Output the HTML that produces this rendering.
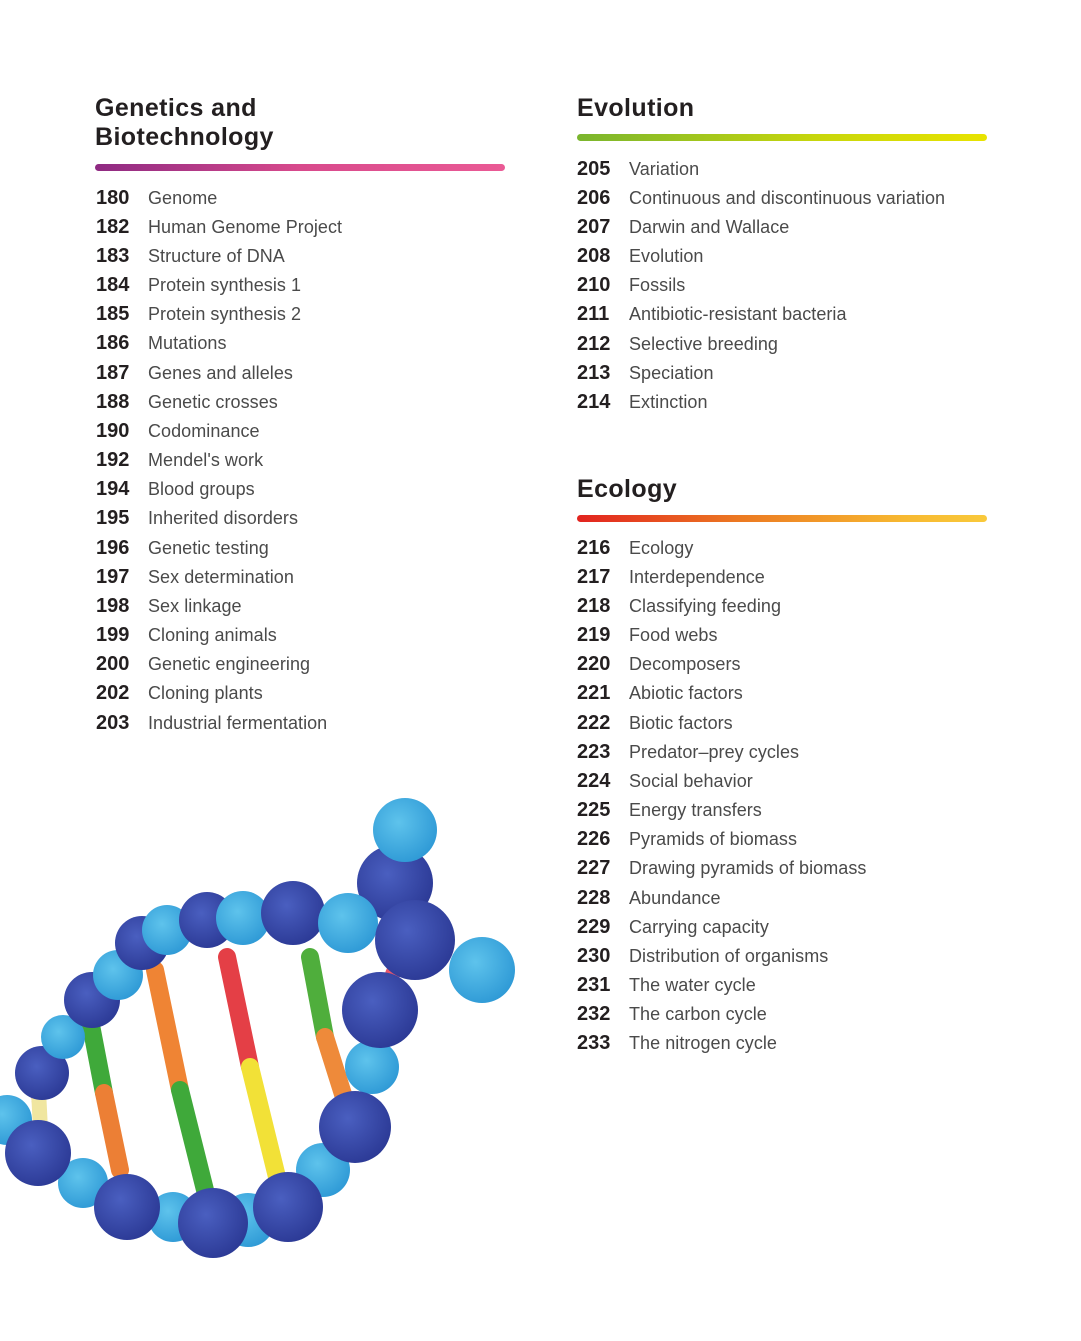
<!DOCTYPE html>
<html><head><meta charset="utf-8"><style>
body{margin:0;background:#fff;width:1081px;height:1341px;position:relative;overflow:hidden;font-family:"Liberation Sans",sans-serif;color:#231f20}
.h{position:absolute;font-weight:bold;font-size:25px;line-height:29px;letter-spacing:0.4px}
.bar{position:absolute;height:7px;border-radius:4px}
.row{position:absolute;height:29px;line-height:29px;white-space:nowrap}
.row b{position:absolute;left:0;font-size:20px}
.row span{position:absolute;left:52px;font-size:18px;color:#4a4a4a;letter-spacing:0.05px}
</style></head><body>
<div class="h" style="left:95px;top:94px">Genetics and<br>Biotechnology</div>
<div class="bar" style="left:95px;top:164px;width:410px;background:linear-gradient(90deg,#8e2a82,#d84a8c 50%,#ea5a95)"></div>
<div class="h" style="left:577px;top:94px">Evolution</div>
<div class="bar" style="left:577px;top:134px;width:410px;background:linear-gradient(90deg,#7ab52e,#c9d70b 60%,#e8e300)"></div>
<div class="h" style="left:577px;top:475px">Ecology</div>
<div class="bar" style="left:577px;top:515px;width:410px;background:linear-gradient(90deg,#e2231f,#ec7a22 40%,#f7b931 80%,#f9c93b)"></div>

<script>
function list(x,y0,items){let h='';items.forEach((it,i)=>{h+=`<div class="row" style="left:${x}px;top:${y0+i*29.17-14.5}px"><b>${it[0]}</b><span>${it[1]}</span></div>`});document.body.insertAdjacentHTML('beforeend',h);}
list(96,198,[["180","Genome"],["182","Human Genome Project"],["183","Structure of DNA"],["184","Protein synthesis 1"],["185","Protein synthesis 2"],["186","Mutations"],["187","Genes and alleles"],["188","Genetic crosses"],["190","Codominance"],["192","Mendel's work"],["194","Blood groups"],["195","Inherited disorders"],["196","Genetic testing"],["197","Sex determination"],["198","Sex linkage"],["199","Cloning animals"],["200","Genetic engineering"],["202","Cloning plants"],["203","Industrial fermentation"]]);
list(577,169,[["205","Variation"],["206","Continuous and discontinuous variation"],["207","Darwin and Wallace"],["208","Evolution"],["210","Fossils"],["211","Antibiotic-resistant bacteria"],["212","Selective breeding"],["213","Speciation"],["214","Extinction"]]);
list(577,548,[["216","Ecology"],["217","Interdependence"],["218","Classifying feeding"],["219","Food webs"],["220","Decomposers"],["221","Abiotic factors"],["222","Biotic factors"],["223","Predator–prey cycles"],["224","Social behavior"],["225","Energy transfers"],["226","Pyramids of biomass"],["227","Drawing pyramids of biomass"],["228","Abundance"],["229","Carrying capacity"],["230","Distribution of organisms"],["231","The water cycle"],["232","The carbon cycle"],["233","The nitrogen cycle"]]);
</script>

<svg width="1081" height="1341" style="position:absolute;left:0;top:0">
<defs>
<radialGradient id="d" cx="40%" cy="38%" r="65%"><stop offset="0" stop-color="#4a5fc0"/><stop offset="1" stop-color="#2c3a96"/></radialGradient>
<radialGradient id="l" cx="40%" cy="38%" r="65%"><stop offset="0" stop-color="#5ec3ec"/><stop offset="1" stop-color="#2f9ad6"/></radialGradient>
</defs>
<g stroke-linecap="round">
<line x1="38" y1="1077" x2="39" y2="1100" stroke="#e8556a" stroke-width="15"/><line x1="39" y1="1100" x2="40" y2="1120" stroke="#f0e6a0" stroke-width="15"/>
<line x1="90" y1="1020" x2="104" y2="1093" stroke="#3fa93a" stroke-width="18"/><line x1="104" y1="1093" x2="120" y2="1170" stroke="#ec7f35" stroke-width="18"/>
<line x1="155" y1="970" x2="180" y2="1090" stroke="#ef8434" stroke-width="18"/><line x1="180" y1="1090" x2="205" y2="1190" stroke="#3fa93a" stroke-width="18"/>
<line x1="227" y1="957" x2="250" y2="1067" stroke="#e43f46" stroke-width="18"/><line x1="250" y1="1067" x2="277" y2="1177" stroke="#f2e137" stroke-width="18"/>
<line x1="310" y1="957" x2="325" y2="1037" stroke="#4fae3c" stroke-width="18"/><line x1="325" y1="1037" x2="347" y2="1107" stroke="#ee8a3a" stroke-width="18"/>
<line x1="393" y1="973" x2="388" y2="988" stroke="#e8556a" stroke-width="15"/><line x1="388" y1="988" x2="382" y2="1005" stroke="#f0e6a0" stroke-width="15"/>
</g>
<g>
<circle cx="7" cy="1120" r="25" fill="url(#l)"/>
<circle cx="42" cy="1073" r="27" fill="url(#d)"/>
<circle cx="63" cy="1037" r="22" fill="url(#l)"/>
<circle cx="92" cy="1000" r="28" fill="url(#d)"/>
<circle cx="118" cy="975" r="25" fill="url(#l)"/>
<circle cx="142" cy="943" r="27" fill="url(#d)"/>
<circle cx="167" cy="930" r="25" fill="url(#l)"/>
<circle cx="207" cy="920" r="28" fill="url(#d)"/>
<circle cx="243" cy="918" r="27" fill="url(#l)"/>
<circle cx="293" cy="913" r="32" fill="url(#d)"/>
<circle cx="395" cy="883" r="38" fill="url(#d)"/>
<circle cx="405" cy="830" r="32" fill="url(#l)"/>
<circle cx="348" cy="923" r="30" fill="url(#l)"/>
<circle cx="482" cy="970" r="33" fill="url(#l)"/>
<circle cx="372" cy="1067" r="27" fill="url(#l)"/>
<circle cx="380" cy="1010" r="38" fill="url(#d)"/>
<circle cx="415" cy="940" r="40" fill="url(#d)"/>
<circle cx="323" cy="1170" r="27" fill="url(#l)"/>
<circle cx="355" cy="1127" r="36" fill="url(#d)"/>
<circle cx="248" cy="1220" r="27" fill="url(#l)"/>
<circle cx="288" cy="1207" r="35" fill="url(#d)"/>
<circle cx="173" cy="1217" r="25" fill="url(#l)"/>
<circle cx="213" cy="1223" r="35" fill="url(#d)"/>
<circle cx="83" cy="1183" r="25" fill="url(#l)"/>
<circle cx="127" cy="1207" r="33" fill="url(#d)"/>
<circle cx="38" cy="1153" r="33" fill="url(#d)"/>
</g>
</svg>
</body></html>
